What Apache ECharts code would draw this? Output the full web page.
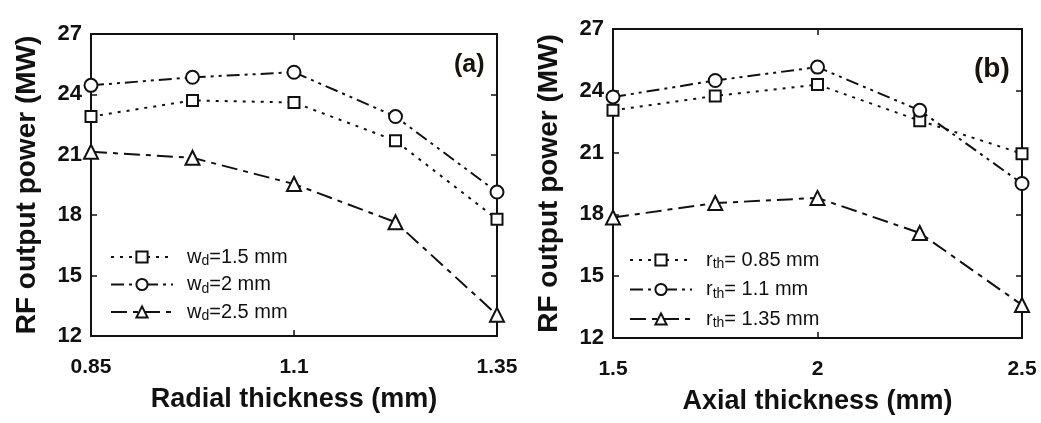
<!DOCTYPE html>
<html>
<head>
<meta charset="utf-8">
<script src="https://cdn.jsdelivr.net/npm/echarts@6/dist/echarts.min.js"></script>
<style>
  html, body { margin: 0; padding: 0; background: #fff; }
  #chart { width: 1041px; height: 423px; }
</style>
</head>
<body>
<div id="chart"></div>
<script>
// (a) radial thickness sweep
const radialX = ['0.85', '0.975', '1.1', '1.225', '1.35'];
const wd15 = [22.9, 23.7, 23.6, 21.7, 17.8];
const wd2 = [24.45, 24.85, 25.1, 22.9, 19.15];
const wd25 = [21.15, 20.85, 19.55, 17.65, 13.05];

// (b) axial thickness sweep
const axialX = ['1.5', '1.75', '2', '2.25', '2.5'];
const rth085 = [23.05, 23.75, 24.3, 22.55, 20.95];
const rth11 = [23.7, 24.5, 25.15, 23.05, 19.5];
const rth135 = [17.85, 18.55, 18.8, 17.1, 13.6];

const yTicks = [12, 15, 18, 21, 24, 27];

const chart = echarts.init(document.getElementById('chart'));

const sans = '"Liberation Sans", Arial, sans-serif';
const ink = '#111';

const dotted = [3, 6];
const dashDotDot = [13, 5, 3, 5, 3, 5];
const longDash = [16, 6, 5, 6];

function evenOnly(i) { return i % 2 === 0; }

function xAx(grid, data, name, bottom) {
    return {
        type: 'category', gridIndex: grid, data: data, boundaryGap: false,
        position: bottom ? 'bottom' : 'top',
        name: bottom ? name : '', nameLocation: 'middle', nameGap: 50,
        nameTextStyle: { fontFamily: sans, fontWeight: 'bold', fontSize: 27, color: ink },
        axisLine: { lineStyle: { color: ink, width: 2 } },
        axisTick: { inside: true, length: 6, interval: evenOnly, lineStyle: { color: ink, width: 1.5 } },
        axisLabel: {
            show: bottom, interval: evenOnly, margin: 21,
            fontFamily: sans, fontWeight: 'bold', fontSize: 21, color: ink
        },
        splitLine: { show: false }
    };
}

function yAx(grid, left) {
    return {
        type: 'value', gridIndex: grid, min: yTicks[0], max: yTicks[yTicks.length - 1], interval: 3,
        position: left ? 'left' : 'right',
        name: left ? 'RF output power (MW)' : '', nameLocation: 'middle', nameGap: 50,
        nameTextStyle: { fontFamily: sans, fontWeight: 'bold', fontSize: 28, color: ink },
        axisLine: { show: true, lineStyle: { color: ink, width: 2 } },
        axisTick: { show: true, inside: true, length: 6, lineStyle: { color: ink, width: 1.5 } },
        axisLabel: {
            show: left, margin: 9,
            fontFamily: sans, fontWeight: 'bold', fontSize: 22, color: ink
        },
        splitLine: { show: false }
    };
}

function line(name, data, xi, symbol, size, dash) {
    return {
        name: name, type: 'line', xAxisIndex: xi, yAxisIndex: xi, data: data,
        symbol: symbol, symbolSize: size, showSymbol: true,
        lineStyle: { color: ink, width: 2, type: dash },
        itemStyle: { color: '#fff', borderColor: ink, borderWidth: 2 },
        animation: false, z: 3
    };
}

const legendText = {
    fontFamily: sans, fontSize: 20, color: ink,
    rich: {
        n: { fontFamily: sans, fontSize: 20, color: ink },
        p: { fontFamily: sans, fontSize: 20, color: ink, padding: [0, 0, 0, 9] },
        s: { fontFamily: sans, fontSize: 14, color: ink, padding: [9, 0, 0, 0] }
    }
};

function sub(name) {
    // w_d=..., r_th=...
    const m = name.match(/^(\w)(\w+)(=.*)$/);
    return '{p|' + m[1] + '}{s|' + m[2] + '}{n|' + m[3] + '}';
}

const option = {
    backgroundColor: '#fff',
    animation: false,
    title: [
        { text: '(a)', left: 449, top: 48, textStyle: { fontFamily: sans, fontWeight: 'bold', fontSize: 25, color: '#1a1408' } },
        { text: '(b)', left: 969, top: 50, textStyle: { fontFamily: sans, fontWeight: 'bold', fontSize: 28, color: '#1a1408' } }
    ],
    grid: [
        { left: 91, top: 34, width: 406, height: 302 },
        { left: 613, top: 29, width: 409, height: 309 }
    ],
    legend: [
        {
            orient: 'vertical', left: 105, top: 242, itemGap: 6, itemWidth: 62, itemHeight: 14,
            data: ['wd=1.5 mm', 'wd=2 mm', 'wd=2.5 mm'],
            formatter: sub, textStyle: legendText
        },
        {
            orient: 'vertical', left: 624, top: 245, itemGap: 8, itemWidth: 62, itemHeight: 14,
            data: ['rth= 0.85 mm', 'rth= 1.1 mm', 'rth= 1.35 mm'],
            formatter: sub, textStyle: legendText
        }
    ],
    xAxis: [
        xAx(0, radialX, 'Radial thickness (mm)', true),
        xAx(0, radialX, '', false),
        xAx(1, axialX, 'Axial thickness (mm)', true),
        xAx(1, axialX, '', false)
    ],
    yAxis: [
        yAx(0, true),
        yAx(0, false),
        yAx(1, true),
        yAx(1, false)
    ],
    series: [
        line('wd=1.5 mm', wd15, 0, 'rect', 11, dotted),
        line('wd=2 mm', wd2, 0, 'circle', 13, dashDotDot),
        line('wd=2.5 mm', wd25, 0, 'triangle', 14, longDash),
        line('rth= 0.85 mm', rth085, 2, 'rect', 11, dotted),
        line('rth= 1.1 mm', rth11, 2, 'circle', 13, dashDotDot),
        line('rth= 1.35 mm', rth135, 2, 'triangle', 14, longDash)
    ]
};

chart.setOption(option);
</script>
</body>
</html>
